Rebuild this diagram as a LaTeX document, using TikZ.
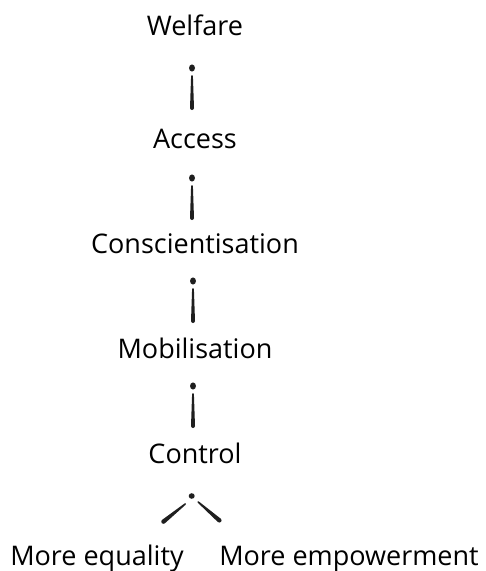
\documentclass[tikz,border=0pt]{standalone}
\usepackage{fontspec}
\setmainfont{Open Sans}
\usetikzlibrary{calc}
\tikzset{
  lbl/.style={anchor=base, inner sep=0pt, text=black,
    font=\fontsize{27}{32}\selectfont},
  ink/.style={fill=black!88},
  % tapered stroke along +x: length / start width / end width (pt)
  pics/taper/.style args={#1/#2/#3}{code={
    \fill[ink] (0,#2/2) -- (#1,#3/2)
      arc[start angle=90,end angle=-90,radius={#3*0.5pt}]
      -- (0,-#2/2)
      arc[start angle=-90,end angle=-270,radius={#2*0.5pt}] -- cycle;
  }},
  % dot with a tapered tail below it
  pics/downglyph/.style={code={
    \fill[ink] (0,0) ellipse[x radius=3pt,y radius=3.6pt];
    \pic[rotate=-90] at (0,-8) {taper=32/1.8/4};
  }},
}
\begin{document}
\begin{tikzpicture}[x=1pt,y=1pt]
  \useasboundingbox (0,0) rectangle (486,-571);

  \node[lbl] (wel) at (195,-35)  {Welfare};
  \node[lbl] (acc) at (195,-148) {Access};
  \node[lbl] (con) at (195,-253) {Conscientisation};
  \node[lbl] (mob) at (195,-358) {Mobilisation};
  \node[lbl] (ctl) at (195,-463) {Control};
  \node[lbl] (eq)  at (97,-565)  {More equality};
  \node[lbl] (emp) at (349,-565) {More empowerment};

  % links down the chain
  \pic at ($(wel.base)+(-3,-33)$) {downglyph};
  \pic at ($(acc.base)+(-3,-30)$) {downglyph};
  \pic at ($(con.base)+(-2,-28)$) {downglyph};
  \pic at ($(mob.base)+(-2,-28)$) {downglyph};

  % fork under Control
  \coordinate (fork) at ($(ctl.base)+(-3.3,-33)$);
  \fill[ink] (fork) ellipse[x radius=3pt,y radius=2.8pt];
  \pic[rotate=219] at ($(fork)+(-6.5,-8)$) {taper=28/1.6/4.4};
  \pic[rotate=-41] at ($(fork)+(6.5,-6)$) {taper=28/1.6/4.4};
\end{tikzpicture}
\end{document}
